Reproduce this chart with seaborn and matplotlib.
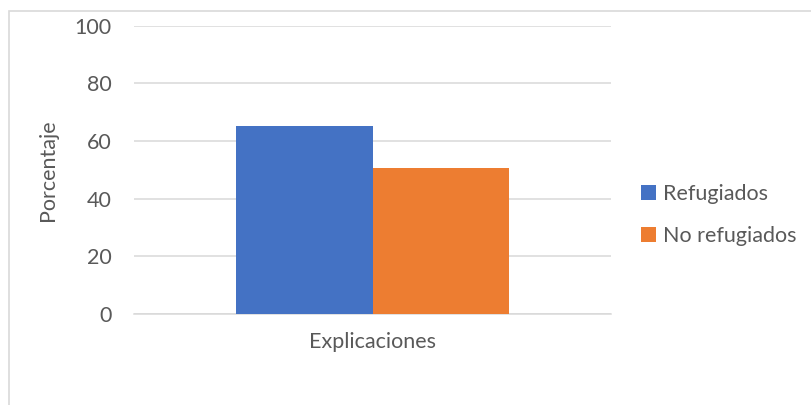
import matplotlib
matplotlib.use("Agg")
import matplotlib.pyplot as plt
import seaborn as sns
import pandas as pd
from matplotlib.patches import Rectangle, Patch

categories = ["Explicaciones"]
groups = ["Refugiados", "No refugiados"]
values = [65.2, 50.6]
colors = ["#4472C4", "#ED7D31"]
yticks = [0, 20, 40, 60, 80, 100]

df = pd.DataFrame({
    "categoria": categories * len(groups),
    "grupo": groups,
    "porcentaje": values,
})

sns.set_theme(style="white")
plt.rcParams["font.family"] = ["Lato", "DejaVu Sans"]
text_color = "#595959"
grid_color = "#D9D9D9"
fs = 15.5

fig = plt.figure(figsize=(8.11, 4.05), dpi=100)
ax = fig.add_axes([134 / 811, 1 - 314 / 405, (611 - 134) / 811, (314 - 25.7) / 405])

sns.barplot(data=df, x="categoria", y="porcentaje", hue="grupo",
            palette=colors, width=0.574, saturation=1, ax=ax,
            legend=False, zorder=3, linewidth=0)

ax.set_ylim(0, 100)
ax.set_xlim(-0.5, 0.5)
ax.set_yticks(yticks)
ax.yaxis.grid(True, color=grid_color, linewidth=1.1, zorder=0)
ax.set_axisbelow(True)
for side in ["top", "right", "left"]:
    ax.spines[side].set_visible(False)
ax.spines["bottom"].set_color(grid_color)
ax.spines["bottom"].set_linewidth(1.1)
ax.tick_params(axis="y", length=0, pad=16, labelsize=fs, labelcolor=text_color)
ax.tick_params(axis="x", length=0, pad=13, labelsize=fs, labelcolor=text_color)
ax.set_xlabel("")
ax.set_ylabel("Porcentaje", fontsize=fs, color=text_color, labelpad=12)

handles = [Patch(facecolor=c, edgecolor="none") for c in colors]
fig.legend(handles, groups, loc="center left", bbox_to_anchor=(622 / 811, 1 - 215 / 405),
           frameon=False, fontsize=fs, labelcolor=text_color,
           handlelength=0.7, handleheight=0.7, handletextpad=0.3,
           labelspacing=1.0)

# chart area border (runs off the right and bottom edges)
fig.patches.append(Rectangle((8.5 / 811, -0.1), 1.2, 1.1 - 11.5 / 405,
                             transform=fig.transFigure, fill=False,
                             edgecolor=grid_color, linewidth=1.2))

fig.savefig("out.png", dpi=100, facecolor="white")
